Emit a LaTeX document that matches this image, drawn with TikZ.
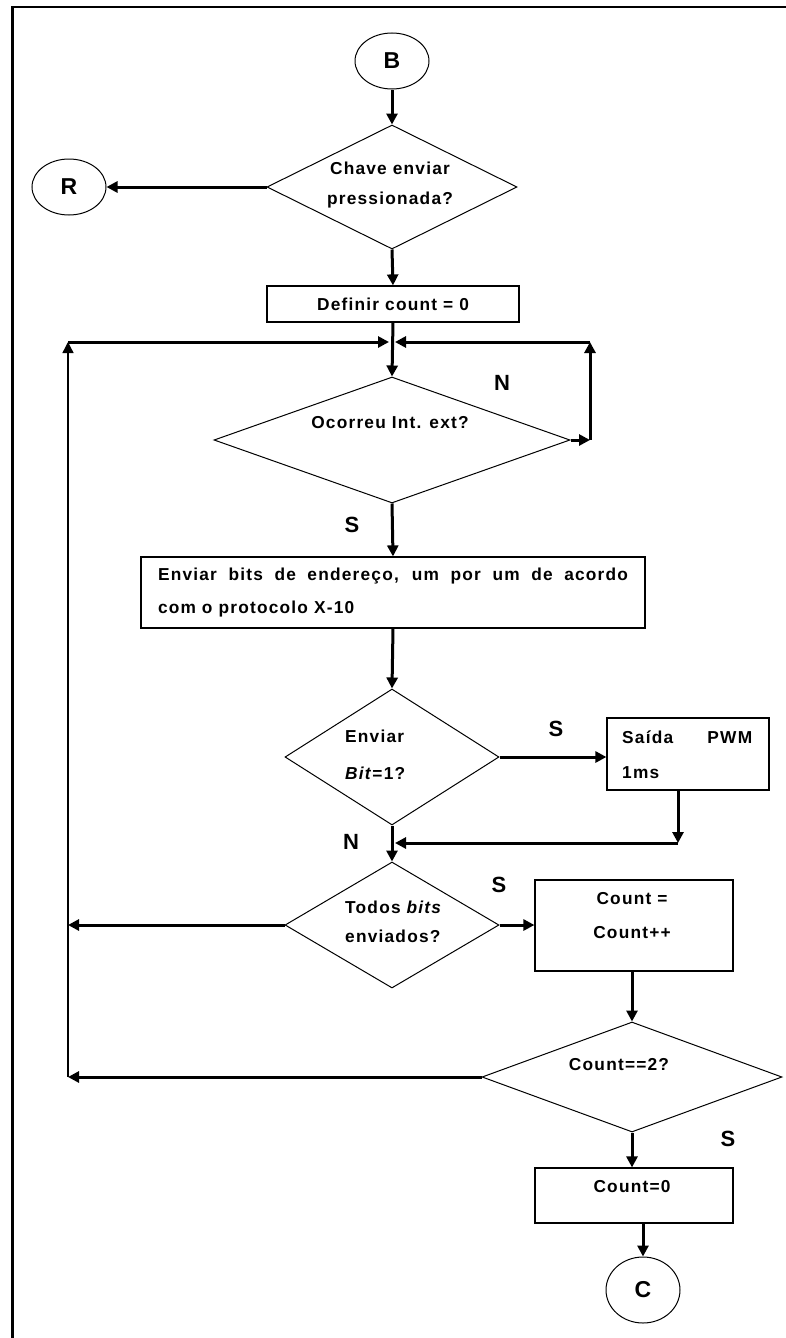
\documentclass[tikz,border=0pt]{standalone}
\usepackage{fontspec}
\setmainfont{Liberation Sans}[LetterSpace=7]
\usetikzlibrary{shapes.geometric,arrows.meta}
\begin{document}
\begin{tikzpicture}[x=1pt,y=-1pt,
  txt/.style={font=\bfseries\fontsize{17.3}{30}\selectfont, inner sep=0pt},
  lbl/.style={font=\bfseries\fontsize{22}{22}\selectfont, inner sep=0pt},
  term/.style={ellipse, draw, line width=1pt, minimum width=74pt, minimum height=56pt,
    inner sep=0pt, font=\bfseries\fontsize{23}{23}\selectfont},
  box/.style={rectangle, draw, line width=1.2pt, inner sep=0pt},
  decision/.style={diamond, draw, line width=1pt, inner sep=0pt},
  arr/.style={line width=3pt, -{Triangle[length=11pt,width=11pt]}},
  thinarr/.style={line width=1.4pt, -{Triangle[length=11pt,width=11pt]}},
]
\useasboundingbox (0,0) rectangle (786,1338);

% page frame
\draw[line width=2.5pt] (12.5,1338) -- (12.5,7) -- (786,7);

% terminals
\node[term] (B) at (392,61) {B};
\node[term] (R) at (69,187) {R};
\node[term, minimum height=66pt] (C) at (643,1290) {C};

% key test
\node[decision, minimum width=250pt, minimum height=124pt] (chave) at (392,187) {};
\node[txt, align=center] (chavet) at (390,185) {Chave enviar\\pressionada?};

% counter reset
\node[box, txt, minimum width=252pt, minimum height=36pt] (definir) at (393,304) {Definir count = 0};

% external interrupt test
\node[decision, minimum width=356pt, minimum height=126pt] (ocorreu) at (392,440) {};
\node[txt] (ocorreut) at (390,423) {Ocorreu Int. ext?};

% address bits
\node[box, txt, font=\bfseries\fontsize{17.3}{33}\selectfont, align=left,
  minimum width=504pt, minimum height=71pt] (bitsbox) at (393,592.5)
  {\makebox[470pt][s]{Enviar bits de endereço, um por um de acordo}\\com o protocolo X-10};

% bit value test
\node[decision, minimum width=214pt, minimum height=136pt] (bit) at (392,757) {};
\node[txt, font=\bfseries\fontsize{17.3}{37}\selectfont, align=left, anchor=west] (bitt)
  at (345,754.5) {Enviar\\\textit{Bit}=1?};

% PWM output
\node[box, minimum width=162pt, minimum height=72pt] (saida) at (688,754) {};
\node[txt, font=\bfseries\fontsize{17.3}{35}\selectfont, align=left, anchor=west] (saidat)
  at (622,754.5) {\makebox[130pt]{Saída\hfill PWM}\\1ms};

% all bits sent test
\node[decision, minimum width=214pt, minimum height=126pt] (todos) at (392,925) {};
\node[txt, font=\bfseries\fontsize{17.3}{29}\selectfont, align=left, anchor=west] (todost)
  at (345,921.5) {Todos \textit{bits}\\enviados?};

% counter increment
\node[box, minimum width=198pt, minimum height=91pt] (count) at (634,925.5) {};
\node[txt, font=\bfseries\fontsize{17.3}{34}\selectfont, align=center] (countt)
  at (632,916) {Count =\\Count++};

% counter test
\node[decision, minimum width=300pt, minimum height=110pt] (cnt2) at (632,1077) {};
\node[txt] (cnt2t) at (619,1065) {Count==2?};

% final reset
\node[box, minimum width=198pt, minimum height=55pt] (zero) at (634,1195.5) {};
\node[txt] (zerot) at (632,1187) {Count=0};

% branch labels
\node[lbl] (sa) at (352,525) {S};
\node[lbl] (na) at (502,383) {N};
\node[lbl] (sb1) at (556,729) {S};
\node[lbl] (nb) at (351,842) {N};
\node[lbl] (sc) at (499,885) {S};
\node[lbl] (sd) at (728,1139) {S};

% routing points
\coordinate (jl) at (389,342);
\coordinate (jr) at (395,342);
\coordinate (ltop) at (68,342);
\coordinate (lmid) at (68,925);
\coordinate (lbot) at (68,1077);
\coordinate (rc) at (590,440);
\coordinate (rt) at (590,342);
\coordinate (sbc) at (678,843);
\coordinate (jn2) at (395,843);

% connectors
\draw[arr] (B.south) -- (chave.north);
\draw[arr] (chave.west) -- (R.east);
\draw[arr] (chave.south) -- (definir.north);
\draw[arr] (definir.south) -- (ocorreu.north);
\draw[arr] (ocorreu.east) -- (rc);
\draw[arr] (rc) -- (rt);
\draw[arr] (rt) -- (jr);
\draw[thinarr] (lbot) -- (ltop);
\draw[arr] (ltop) -- (jl);
\draw[arr] (ocorreu.south) -- (bitsbox.north);
\draw[arr] (bitsbox.south) -- (bit.north);
\draw[arr] (bit.east) -- (bit.east -| saida.west);
\draw[arr] (saida.south -| sbc) -- (sbc);
\draw[arr] (sbc) -- (jn2);
\draw[arr] (bit.south) -- (todos.north);
\draw[arr] (todos.east) -- (todos.east -| count.west);
\draw[arr] (todos.west) -- (lmid);
\draw[arr] (count.south -| cnt2.north) -- (cnt2.north);
\draw[arr] (cnt2.west) -- (lbot);
\draw[arr] (cnt2.south) -- (cnt2.south |- zero.north);
\draw[arr] (zero.south -| C.north) -- (C.north);
\end{tikzpicture}
\end{document}
